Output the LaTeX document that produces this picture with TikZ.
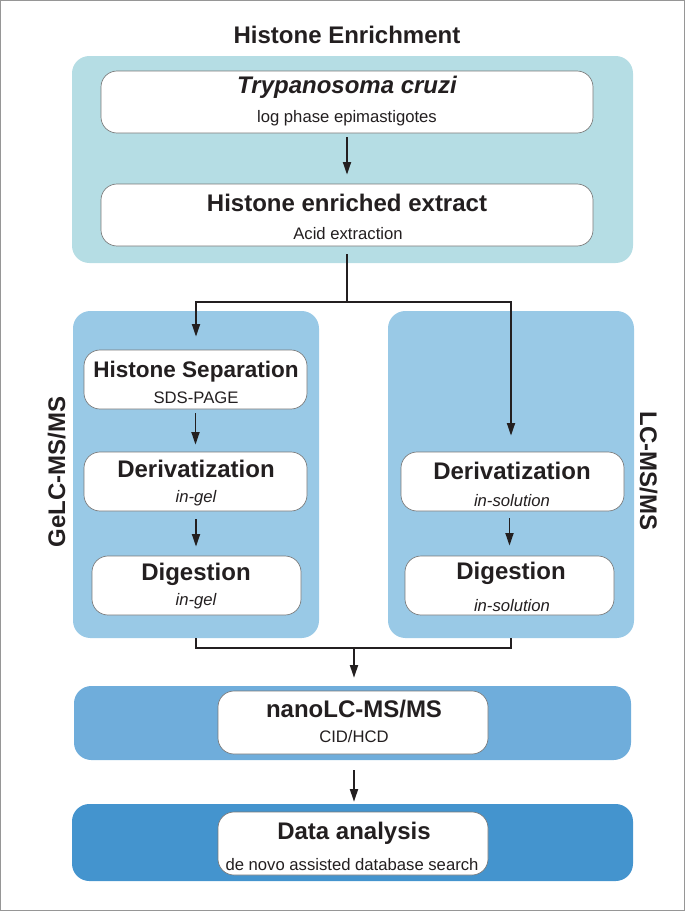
\documentclass[tikz,border=0pt]{standalone}
\usepackage{fontspec}
\setmainfont{Liberation Sans}
\usetikzlibrary{arrows.meta}
\definecolor{ink}{RGB}{35,31,32}
\definecolor{boxgray}{RGB}{120,120,120}
\definecolor{framegray}{RGB}{150,150,150}
\definecolor{pteal}{RGB}{181,221,228}
\definecolor{pblue}{RGB}{153,201,230}
\definecolor{pmid}{RGB}{111,173,219}
\definecolor{pdark}{RGB}{68,148,206}
\begin{document}
\begin{tikzpicture}[x=0.75pt,y=-0.75pt,
  panel/.style={rounded corners=13pt, inner sep=0pt, draw=none},
  wbox/.style={draw=boxgray, line width=0.5pt, fill=white, rounded corners=12pt, inner sep=0pt},
  arr/.style={draw=ink, line width=1.35pt, -{Triangle[length=9.5pt,width=6pt]}},
  ln/.style={draw=ink, line width=1.35pt},
  big/.style={font=\fontsize{18}{20}\selectfont\bfseries, text=ink, anchor=base, inner sep=0pt},
  midt/.style={font=\fontsize{16.9}{19}\selectfont\bfseries, text=ink, anchor=base, inner sep=0pt},
  small/.style={font=\fontsize{12.5}{14}\selectfont, text=ink, anchor=base, inner sep=0pt},
  smallit/.style={font=\fontsize{12.5}{14}\selectfont\itshape, text=ink, anchor=base, inner sep=0pt}]

\useasboundingbox (0,0) rectangle (685,911);
\draw[framegray, line width=0.75pt] (0.5,0.5) rectangle (684.5,910.5);

% panels
\node[panel, fill=pteal, minimum width=420.75pt, minimum height=155.25pt] (top) at (352.5,159.5) {};
\node[panel, fill=pblue, minimum width=184.5pt, minimum height=245.25pt] (lp) at (196,474.5) {};
\node[panel, fill=pblue, minimum width=184.5pt, minimum height=245.25pt] (rp) at (511,474.5) {};
\node[panel, fill=pmid, minimum width=417.75pt, minimum height=55.5pt] (nanop) at (352.5,723) {};
\node[panel, fill=pdark, minimum width=420.75pt, minimum height=57.75pt] (datap) at (352.5,842.5) {};

% white boxes
\node[wbox, minimum width=369pt, minimum height=46.5pt] (b1) at (347,102) {};
\node[wbox, minimum width=369pt, minimum height=46.5pt] (b2) at (347,215) {};
\node[wbox, minimum width=167.25pt, minimum height=44.25pt] (hs) at (195.5,379.5) {};
\node[wbox, minimum width=167.25pt, minimum height=44.25pt] (dl) at (195.5,481.5) {};
\node[wbox, minimum width=156.75pt, minimum height=44.25pt] (gl) at (196.5,585.5) {};
\node[wbox, minimum width=167.25pt, minimum height=44.25pt] (dr) at (512.5,481.5) {};
\node[wbox, minimum width=156.75pt, minimum height=44.25pt] (gr) at (509.5,585.5) {};
\node[wbox, minimum width=202.5pt, minimum height=47.25pt] (nb) at (353,722.5) {};
\node[wbox, minimum width=202.5pt, minimum height=47.25pt] (db) at (353,843.5) {};

% texts
\node[big] (title) at (347,43) {Histone Enrichment};
\node[big, font=\fontsize{18}{20}\selectfont\bfseries\itshape] (t1) at (347,93) {Trypanosoma cruzi};
\node[small] (s1) at (347,122) {log phase epimastigotes};
\node[big] (t2) at (347,211) {Histone enriched extract};
\node[small] (s2) at (348,239) {Acid extraction};
\node[midt] (t3) at (196,377) {Histone Separation};
\node[small] (s3) at (196,403) {SDS-PAGE};
\node[big] (t4) at (196,477) {Derivatization};
\node[smallit] (s4) at (196,502) {in-gel};
\node[big] (t5) at (196,580) {Digestion};
\node[smallit] (s5) at (196,605) {in-gel};
\node[big] (t6) at (512,479) {Derivatization};
\node[smallit] (s6) at (512,506) {in-solution};
\node[big] (t7) at (511,579) {Digestion};
\node[smallit] (s7) at (512,611) {in-solution};
\node[big] (t8) at (354,717) {nanoLC-MS/MS};
\node[small] (s8) at (354,742) {CID/HCD};
\node[big] (t9) at (354,839) {Data analysis};
\node[small] (s9) at (352,870) {de novo assisted database search};
\node[big, rotate=90] (gelc) at (65,472) {GeLC-MS/MS};
\node[big, rotate=-90] (lcms) at (640,471) {LC-MS/MS};

% connectors
\coordinate (split) at (347,302);
\coordinate (lj) at (196,302);
\coordinate (rj) at (511,302);
\coordinate (bj) at (354,648);
\draw[arr, shorten <=3pt, shorten >=6.75pt] (b1) -- (b2);
\draw[ln, shorten <=6pt] (b2.south) -- (split);
\draw[arr, shorten >=9.75pt] (split) -- (lj) -- (lj |- hs.north);
\draw[arr, shorten >=12pt] (split) -- (rj) -- (rj |- dr.north);
\draw[arr, shorten <=3pt, shorten >=5.25pt] (hs) -- (dl);
\draw[arr, shorten <=6pt, shorten >=6.75pt] (lj |- dl.south) -- (lj |- gl.north);
\draw[arr, shorten <=5.25pt, shorten >=7.5pt] (gr.north |- dr.south) -- (gr.north);
\draw[ln] (lj |- lp.south) -- (lj |- bj) -- (rj |- bj) -- (rj |- rp.south);
\draw[arr, shorten >=6pt] (bj) -- (bj |- nanop.north);
\draw[arr, shorten <=7.5pt, shorten >=1.5pt] (bj |- nanop.south) -- (bj |- datap.north);
\end{tikzpicture}
\end{document}
